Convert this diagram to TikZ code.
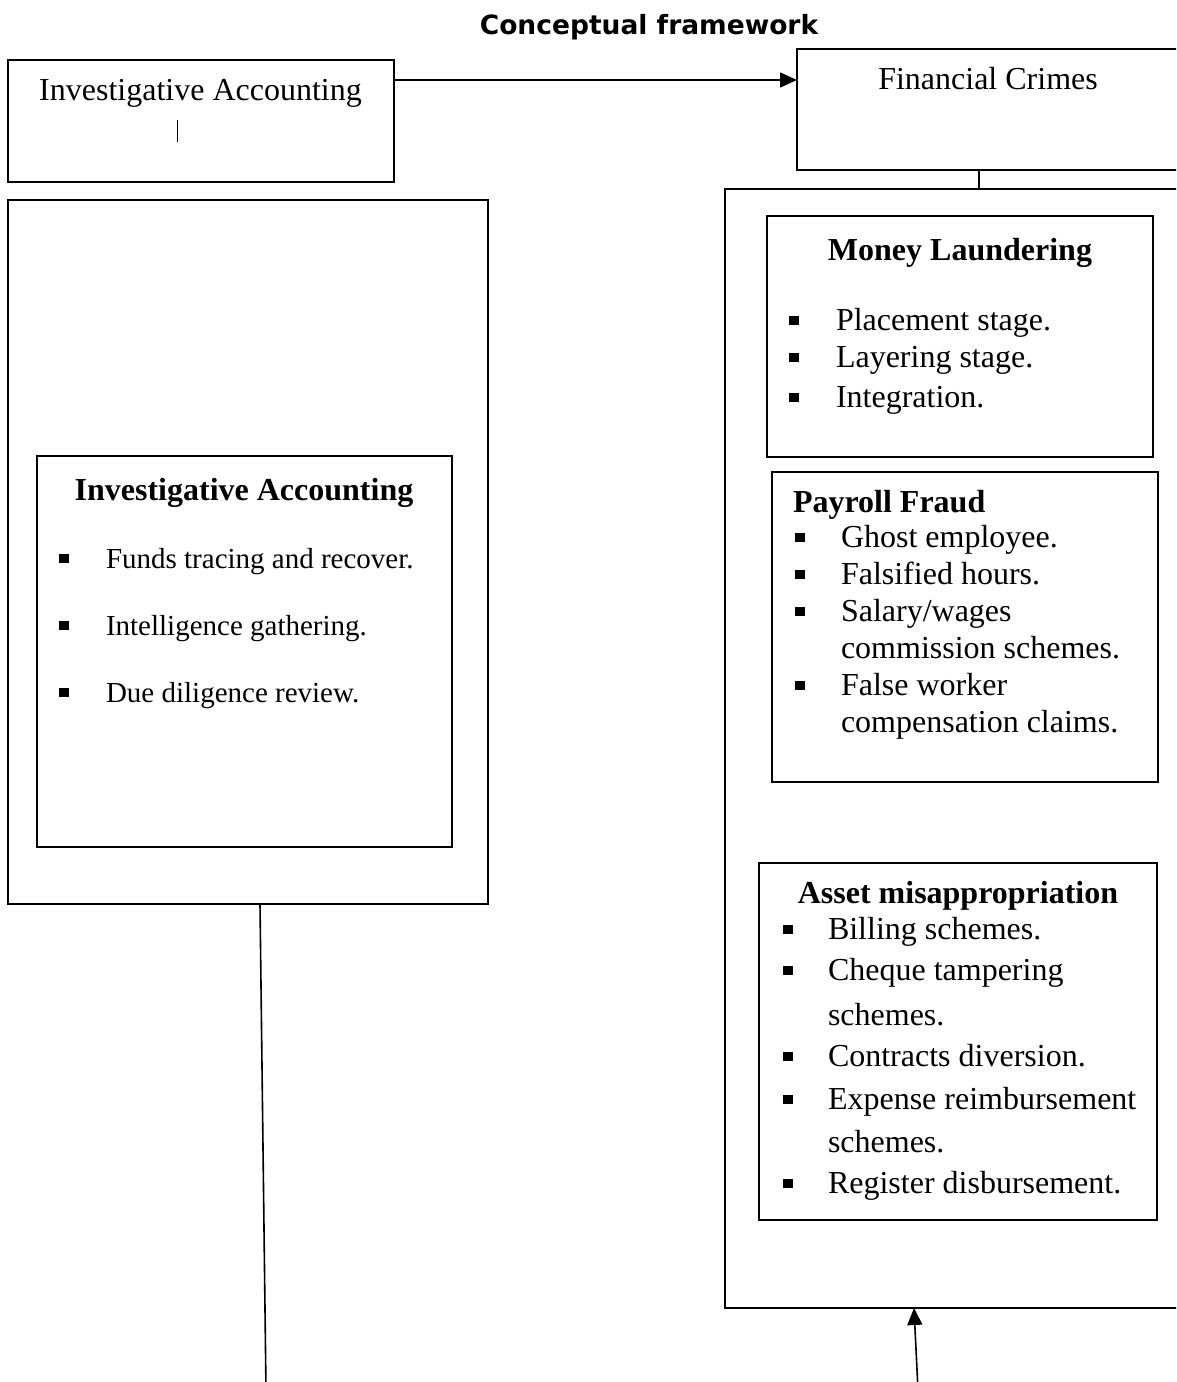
\documentclass[tikz,border=0pt]{standalone}
\usepackage{fontspec}
\setmainfont{Liberation Serif}
\newfontfamily\titlefont{DejaVu Sans}
\usetikzlibrary{arrows.meta,calc}
\tikzset{
  box/.style={draw, line width=1.8pt, rectangle, inner sep=0pt, outer sep=0pt},
  txt/.style={inner sep=0pt, outer sep=0pt, font=\fontsize{32}{38}\selectfont},
  btxt/.style={txt, font=\fontsize{32}{38}\selectfont\bfseries},
  smtxt/.style={inner sep=0pt, outer sep=0pt, font=\fontsize{29}{35}\selectfont},
  bul/.style={fill=black, draw=none, inner sep=0pt, outer sep=0pt, minimum size=9.5pt},
  conn/.style={line width=1.6pt},
  arr/.style={line width=1.6pt, -{Triangle[length=17pt,width=15pt]}}
}
% \bitem{name}{bullet x}{text x}{baseline}{text}{style}
\newcommand\bitem[6]{%
  \node[bul] (#1b) at (#2,{#4-9.5}) {};
  \node[#6, anchor=base west] (#1) at (#3,#4) {#5};
}
\begin{document}
\begin{tikzpicture}[x=1pt,y=-1pt]
\useasboundingbox (0,0) rectangle (1176,1382);
\clip (0,0) rectangle (1176,1382);

% title
\node[inner sep=0pt, anchor=base, font=\titlefont\bfseries\fontsize{26.5}{30}\selectfont] (title) at (649,34) {Conceptual framework};

% top boxes
\node[box, minimum width=386pt, minimum height=122pt] (A) at (201,121) {};
\node[txt, anchor=base] (Atxt) at (200.5,100) {Investigative Accounting};
\draw[line width=0.9pt] (177,120) -- (177,142);

\node[box, minimum width=390pt, minimum height=121pt] (B) at (992,109.5) {};
\node[txt, anchor=base] (Btxt) at (988,89) {Financial Crimes};

\draw[arr] ([yshift=-20pt]A.north east) -- ([yshift=-31pt]B.north west);

% right outer box
\node[box, minimum width=462pt, minimum height=1119pt] (R) at (956,748.5) {};
\coordinate (cx) at (979,0);
\draw[conn] (B.south -| cx) -- (R.north -| cx);

% Money laundering
\node[box, minimum width=386pt, minimum height=241pt] (ML) at (960,336.5) {};
\node[btxt, anchor=base] (MLt) at (960,260) {Money Laundering};
\bitem{ml1}{794}{836}{330}{Placement stage.}{txt}
\bitem{ml2}{794}{836}{367}{Layering stage.}{txt}
\bitem{ml3}{794}{836}{407}{Integration.}{txt}

% Payroll fraud
\node[box, minimum width=386pt, minimum height=310pt] (PF) at (965,627) {};
\node[btxt, anchor=base west] (PFt) at (793,512) {Payroll Fraud};
\bitem{pf1}{800}{841}{547}{Ghost employee.}{txt}
\bitem{pf2}{800}{841}{584}{Falsified hours.}{txt}
\bitem{pf3}{800}{841}{621}{Salary/wages}{txt}
\node[txt, anchor=base west] (pf3c) at (841,658) {commission schemes.};
\bitem{pf4}{800}{841}{695}{False worker}{txt}
\node[txt, anchor=base west] (pf4c) at (841,732) {compensation claims.};

% Asset misappropriation
\node[box, minimum width=398pt, minimum height=357pt] (AM) at (958,1041.5) {};
\node[btxt, anchor=base] (AMt) at (958,903) {Asset misappropriation};
\bitem{am1}{788}{828}{939}{Billing schemes.}{txt}
\bitem{am2}{788}{828}{980}{Cheque tampering}{txt}
\node[txt, anchor=base west] (am2c) at (828,1025) {schemes.};
\bitem{am3}{788}{828}{1066}{Contracts diversion.}{txt}
\bitem{am4}{788}{828}{1109}{Expense reimbursement}{txt}
\node[txt, anchor=base west] (am4c) at (828,1152) {schemes.};
\bitem{am5}{788}{828}{1193}{Register disbursement.}{txt}

% left outer box
\node[box, minimum width=480pt, minimum height=704pt] (L) at (248,552) {};
% left inner box
\node[box, minimum width=415pt, minimum height=391pt] (LI) at (244.5,651.5) {};
\node[btxt, anchor=base] (LIt) at (244,500) {Investigative Accounting};
\bitem{ia1}{64}{106}{568}{Funds tracing and recover.}{smtxt}
\bitem{ia2}{64}{106}{635}{Intelligence gathering.}{smtxt}
\bitem{ia3}{64}{106}{702}{Due diligence review.}{smtxt}

% bottom connectors
\coordinate (lend) at (266,1390);
\draw[conn] ([xshift=12pt]L.south) -- (lend);
\coordinate (rstart) at (918,1390);
\draw[arr] (rstart) -- ([xshift=-42pt]R.south);
\end{tikzpicture}
\end{document}
